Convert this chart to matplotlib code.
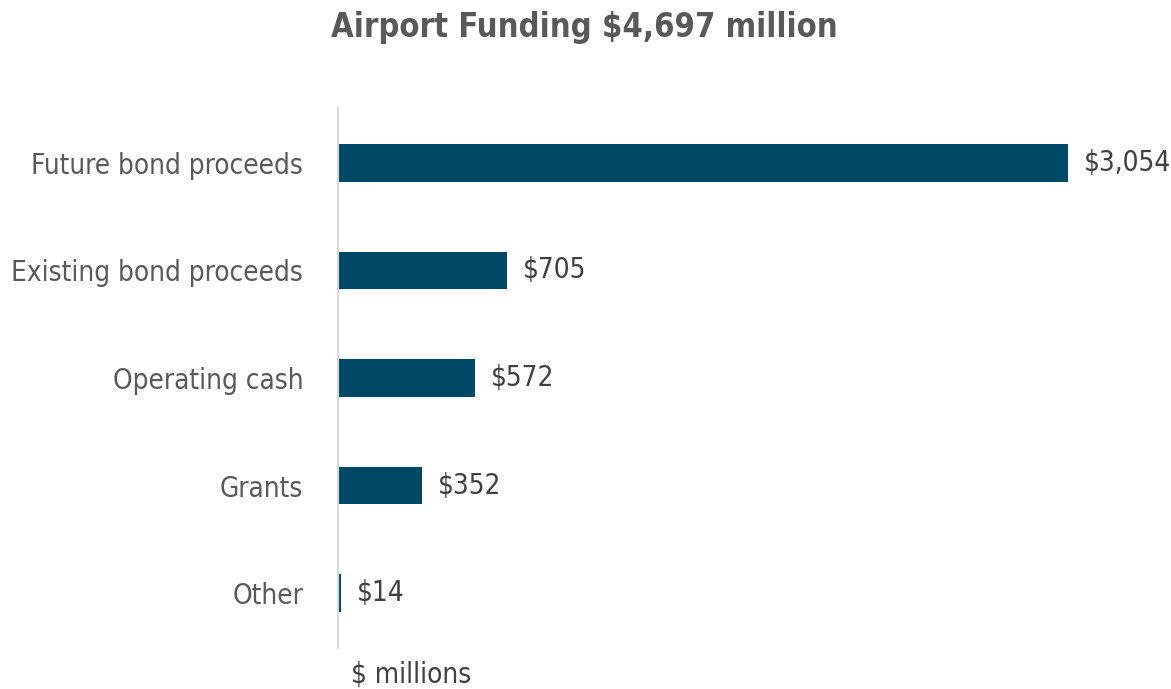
import matplotlib
matplotlib.use("Agg")
import matplotlib.pyplot as plt

categories = ["Future bond proceeds", "Existing bond proceeds", "Operating cash", "Grants", "Other"]
values = [3054, 705, 572, 352, 14]
value_labels = ["$3,054", "$705", "$572", "$352", "$14"]
title = "Airport Funding $4,697 million"
unit_label = "$ millions"

plt.rcParams['font.family'] = ["DejaVu Sans"]
plt.rcParams['font.stretch'] = "condensed"

W, H = 1171, 689
fig = plt.figure(figsize=(W/100, H/100), dpi=100)
ax = fig.add_axes([338/W, 41/H, 833/W, 540/H])

pos = list(range(len(categories)))
ax.barh(pos, values, height=0.35, color="#004966")
ax.set_ylim(4.51, -0.51)
ax.set_xlim(0, 3485)
ax.set_yticks(pos)
ax.set_yticklabels(categories, fontsize=20, color="#595959")
ax.tick_params(axis='y', length=0, pad=25)
ax.set_xticks([])
for s in ["top", "right", "bottom"]:
    ax.spines[s].set_visible(False)
ax.spines["left"].set_color("#d9d9d9")
ax.spines["left"].set_linewidth(1.5)

for p, v, lab in zip(pos, values, value_labels):
    ax.annotate(lab, (v, p), xytext=(16, 0), textcoords="offset pixels",
                va="center", ha="left", fontsize=20, color="#404040")

fig.text(584/W, 1 - 28/H, title, ha="center", va="center", fontsize=23.5, fontweight="bold", color="#595959")
fig.text(351/W, 1 - 675/H, unit_label, ha="left", va="center", fontsize=20, color="#404040")

fig.savefig("out.png", dpi=100)
